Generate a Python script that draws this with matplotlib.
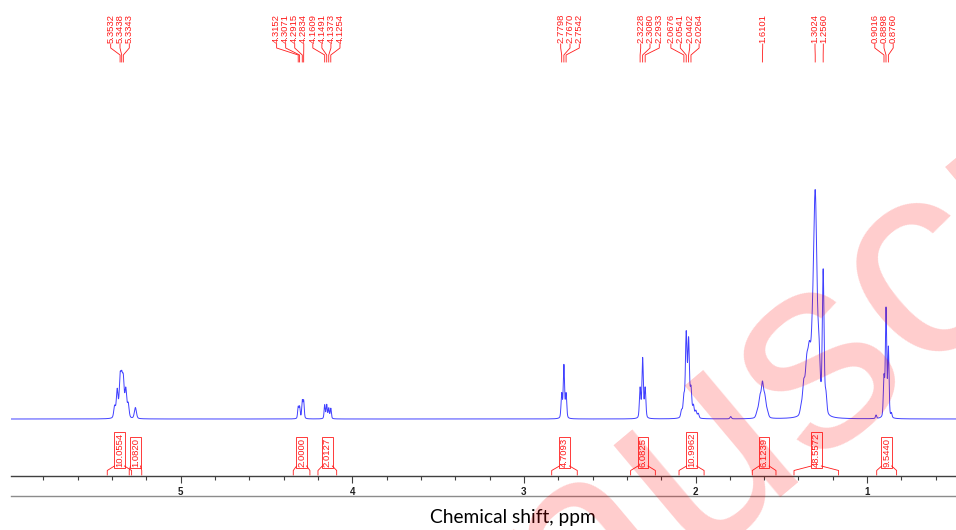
import numpy as np
import matplotlib
matplotlib.use("Agg")
import matplotlib.pyplot as plt
from matplotlib.transforms import Affine2D, blended_transform_factory
from matplotlib.lines import Line2D
from matplotlib.ticker import MultipleLocator

# ---------------- data ----------------
# resolved lines of the 1H spectrum: position (ppm), height (% of tallest), half-width (ppm)
peak_ppm = [5.385, 5.370, 5.3532, 5.3438, 5.3343, 5.320, 5.306, 5.264,
            4.3152, 4.3071, 4.2915, 4.2834,
            4.1609, 4.1491, 4.1373, 4.1254,
            2.7798, 2.7670, 2.7542,
            2.3228, 2.3080, 2.2933,
            2.0812, 2.0676, 2.0541, 2.0402, 2.0264, 2.012, 1.998, 1.984,
            1.795,
            1.640, 1.625, 1.6101, 1.596, 1.582,
            1.385, 1.370, 1.352, 1.336, 1.320, 1.3024, 1.280, 1.2560, 1.240,
            0.948, 0.9016, 0.8898, 0.8760, 0.858]
peak_height = [5, 12, 16, 14, 15, 12, 6, 4.8,
               5, 5, 7.5, 7.5,
               6, 6, 4.5, 4.5,
               10.5, 23, 10.5,
               13, 26, 13,
               3, 8.5, 36, 33, 12, 5, 3, 2,
               1.0,
               2.5, 8, 14, 8, 2.5,
               3, 12, 20, 23, 16, 96, 21, 62, 8,
               1.5, 17, 47, 30, 1.8]
peak_width = [0.006, 0.006, 0.006, 0.006, 0.006, 0.006, 0.006, 0.007,
              0.004, 0.004, 0.004, 0.004,
              0.004, 0.004, 0.004, 0.004,
              0.0045, 0.0045, 0.0045,
              0.0048, 0.0048, 0.0048,
              0.0055, 0.0055, 0.0055, 0.0055, 0.0055, 0.0055, 0.0055, 0.0055,
              0.005,
              0.008, 0.008, 0.008, 0.008, 0.008,
              0.007, 0.008, 0.010, 0.010, 0.009, 0.012, 0.008, 0.006, 0.006,
              0.004, 0.0045, 0.0045, 0.0045, 0.004]

# peak-pick labels at the top, grouped as in the reference
label_groups = [
    [5.3532, 5.3438, 5.3343],
    [4.3152, 4.3071, 4.2915, 4.2834, 4.1609, 4.1491, 4.1373, 4.1254],
    [2.7798, 2.7670, 2.7542],
    [2.3228, 2.3080, 2.2933],
    [2.0676, 2.0541, 2.0402, 2.0264],
    [1.6101],
    [1.3024],
    [1.2560],
    [0.9016, 0.8898, 0.8760],
]

# integrals
integral_values = ["10.0554", "1.0820", "2.0000", "2.0127", "4.7093",
                   "6.0825", "10.9962", "6.1239", "48.5572", "9.5440"]
integral_start = [5.428, 5.300, 4.344, 4.200, 2.838, 2.378, 2.096, 1.669, 1.426, 0.944]
integral_end = [5.286, 5.227, 4.247, 4.091, 2.689, 2.234, 1.950, 1.531, 1.166, 0.828]

major_ticks = [5, 4, 3, 2, 1]
x_label = "Chemical shift, ppm"
watermark = "Manuscript"

# ---------------- layout ----------------
W, H, DPI = 956, 530, 100
PX_PER_PPM = 171.6
X5 = 180.7            # pixel column of 5 ppm


def px2ppm(px):
    return 5 - (px - X5) / PX_PER_PPM


AX_L, AX_R = 11, 956
BASE_PX, AX_BOT = 419, 476
PX_PER_UNIT = 2.29

fig = plt.figure(figsize=(W / DPI, H / DPI), dpi=DPI)
ax = fig.add_axes([AX_L / W, (H - AX_BOT) / H, (AX_R - AX_L) / W, AX_BOT / H])
ax.set_xlim(px2ppm(AX_L), px2ppm(AX_R))
ax.set_ylim(-(AX_BOT - BASE_PX) / PX_PER_UNIT, BASE_PX / PX_PER_UNIT)

# pixel transform (x right, y down from top of image)
tpx = Affine2D().scale(1, -1).translate(0, H)
bt = blended_transform_factory(ax.transData, tpx)

# spectrum
x = np.linspace(px2ppm(AX_L), px2ppm(AX_R), 24000)
y = np.zeros_like(x)
eta = 0.35
for p, h, w in zip(peak_ppm, peak_height, peak_width):
    lor = 1.0 / (1.0 + ((x - p) / w) ** 2)
    gau = np.exp(-np.log(2) * ((x - p) / w) ** 2)
    y += h * (eta * lor + (1 - eta) * gau)
ax.plot(x, y, color="#4040ff", lw=0.7)

# axes styling
for s in ("left", "right", "top"):
    ax.spines[s].set_visible(False)
ax.spines["bottom"].set_color("#404040")
ax.spines["bottom"].set_linewidth(1.0)
ax.set_yticks([])
ax.set_xticks(major_ticks)
ax.set_xticklabels([str(t) for t in major_ticks])
ax.xaxis.set_minor_locator(MultipleLocator(0.2))
ax.tick_params(axis="x", which="major", direction="out", length=5, width=0.8,
               color="#404040", labelsize=7, pad=3, labelcolor="#202020")
ax.tick_params(axis="x", which="minor", direction="out", length=3, width=0.8,
               color="#404040")
for tl in ax.get_xticklabels():
    tl.set_fontweight("bold")
    tl.set_family("Liberation Sans")

RED = "#ff1a1a"
LAB_FS = 6.8

# peak labels on top
group_centers = [120, 308.3, 570, 650, 685, 762.7, 815, 823.3, 884]
spacing = [9.3, 9.05, 9.3, 9.3, 9.4, 9.3, 9.3, 9.3, 9.2]
for grp, cx, sp in zip(label_groups, group_centers, spacing):
    n = len(grp)
    for i, v in enumerate(grp):
        lx = px2ppm(cx + (i - (n - 1) / 2) * sp)
        ax.text(lx, 43, f"{v:.4f}", rotation=90, ha="center", va="bottom",
                transform=bt, fontsize=LAB_FS, color=RED,
                family="Liberation Sans", clip_on=False)
        ln = Line2D([lx, lx, v, v], [44, 48, 55, 62], transform=bt,
                    color=RED, lw=0.6, clip_on=False)
        ax.add_artist(ln)

# integrals
half = 5.0 / PX_PER_PPM
for val, s, e in zip(integral_values, integral_start, integral_end):
    c = (s + e) / 2
    ax.text(c, 467, val, rotation=90, ha="center", va="bottom", transform=bt,
            fontsize=LAB_FS, color=RED, family="Liberation Sans", clip_on=False,
            bbox=dict(boxstyle="square,pad=0.08", fc="none", ec=RED, lw=0.6))
    ax.add_artist(Line2D([s, s, c + half], [475, 470.5, 466], transform=bt,
                         color=RED, lw=0.6, clip_on=False))
    ax.add_artist(Line2D([c - half, e, e], [466, 470.5, 475], transform=bt,
                         color=RED, lw=0.6, clip_on=False))

# lower frame line
fig.add_artist(Line2D([AX_L, AX_R], [496, 496], transform=tpx,
                      color="#8c8c8c", lw=1.0))

# axis title
fig.text(513, 517, x_label, transform=tpx, ha="center", va="center",
         fontsize=13.8, family="Lato", color="black")

# watermark
fig.text(750, 410, watermark, transform=tpx, rotation=40, rotation_mode="anchor",
         ha="center", va="center", fontsize=200, color="#ff0000", alpha=0.2,
         family="Liberation Sans", zorder=10)

fig.savefig("out.png", dpi=DPI)
